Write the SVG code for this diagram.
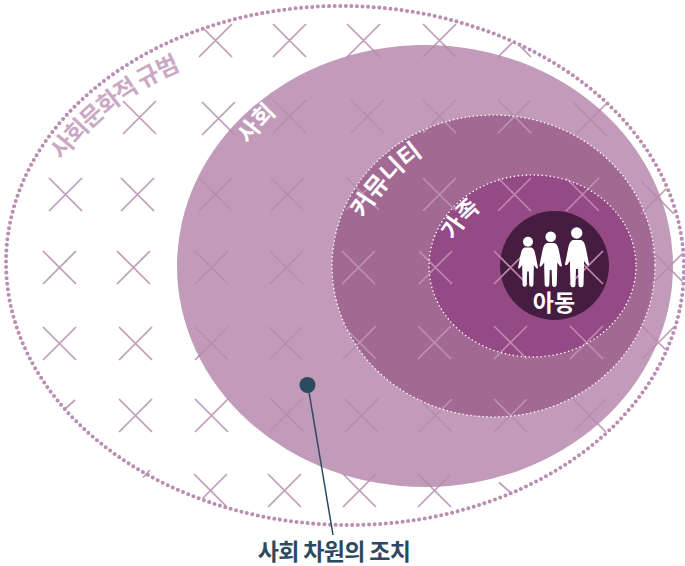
<svg xmlns="http://www.w3.org/2000/svg" xmlns:xlink="http://www.w3.org/1999/xlink" width="685" height="566" viewBox="0 0 685 566">
<style>
text{font-family:"Noto Sans CJK KR","Noto Sans",sans-serif;font-weight:700}
.w{fill:#fff}
.edge{fill:none;stroke:#fff;stroke-width:1.6;stroke-linecap:round;stroke-dasharray:0 4}
.x{fill:none;stroke-width:1.7}
</style>
<defs>
<path id="marks" d="M199 24l33 33m-33 0l33-33M273 24l33 33m-33 0l33-33M347 24l33 33m-33 0l33-33M423 24l33 33m-33 0l33-33M498 24l33 33m-33 0l33-33
M123 101l33 33m-33 0l33-33M202 102l33 33m-33 0l33-33M273 100l33 33m-33 0l33-33M351 100l33 33m-33 0l33-33M423 100l33 33m-33 0l33-33M498 100l33 33m-33 0l33-33M574 103l33 33m-33 0l33-33
M49 178l33 33m-33 0l33-33M121 178l33 33m-33 0l33-33M199 178l33 33m-33 0l33-33M271 178l33 33m-33 0l33-33M346 177l33 33m-33 0l33-33M423 178l33 33m-33 0l33-33M498 178l33 33m-33 0l33-33M566 178l33 33m-33 0l33-33M641 181l33 33m-33 0l33-33
M43 251l33 33m-33 0l33-33M117 251l33 33m-33 0l33-33M195 251l33 33m-33 0l33-33M270 251l33 33m-33 0l33-33M342 251l33 33m-33 0l33-33M419 251l33 33m-33 0l33-33M494 251l33 33m-33 0l33-33M570 251l33 33m-33 0l33-33M652 251l33 33m-33 0l33-33
M43 327l33 33m-33 0l33-33M119 327l33 33m-33 0l33-33M195 327l33 33m-33 0l33-33M269 327l33 33m-33 0l33-33M343 326l33 33m-33 0l33-33M418 326l33 33m-33 0l33-33M494 326l33 33m-33 0l33-33M570 326l33 33m-33 0l33-33M642 326l33 33m-33 0l33-33
M119 399l33 33m-33 0l33-33M195 399l33 33m-33 0l33-33M270 398l33 33m-33 0l33-33M345 399l33 33m-33 0l33-33M419 399l33 33m-33 0l33-33M494 399l33 33m-33 0l33-33M573 399l33 33m-33 0l33-33
M194 474l33 33m-33 0l33-33M268 474l33 33m-33 0l33-33M343 474l33 33m-33 0l33-33M418 474l33 33m-33 0l33-33"/>
<clipPath id="cOuter"><ellipse cx="345" cy="265.5" rx="338" ry="258.5" transform="rotate(1.2 345 265.5)"/></clipPath>
<clipPath id="cSociety"><ellipse cx="425" cy="266" rx="248" ry="221"/></clipPath>
<clipPath id="cCommunity"><ellipse cx="493.5" cy="266" rx="161.5" ry="151"/></clipPath>
<clipPath id="cFamily"><ellipse cx="532.5" cy="266" rx="103.5" ry="91"/></clipPath>
<path id="body" d="M-4 0H4C7 1 8 4 9 9L12 24Q12 26 10 25L7 21V26L6.5 45Q6 48 3 47Q1.5 47 1.5 44L1 29H-1L-1.5 44Q-1.5 47-3 47Q-6 48-6.5 45L-7 26V21L-10 25Q-12 26-12 24L-9 9C-8 4-7 1-4 0Z"/>
<path id="arcNorm" d="M62 161Q112 96 186 68"/>
<path id="arcSoc" d="M249 145Q268 118 292 102"/>
<path id="arcCom" d="M364 219Q389 176 432 149"/>
<path id="arcFam" d="M454 241Q467 217 493 201"/>
</defs>
<rect width="685" height="566" fill="#fff"/>
<g id="norm">
<use xlink:href="#marks" href="#marks" class="x" stroke="#c09ab9" clip-path="url(#cOuter)"/>
<path d="M499 482.5L510 492M65 409L75 400M143 477.5L150 470" class="x" stroke="#c09ab9"/>
<ellipse cx="345" cy="265.5" rx="339" ry="259.5" transform="rotate(1.2 345 265.5)" fill="none" stroke="#b98eb2" stroke-width="4" stroke-linecap="round" stroke-dasharray="0 5.6"/>
<text font-size="24" fill="#cba9c5" letter-spacing="-1.2"><textPath xlink:href="#arcNorm" href="#arcNorm">사회문화적 규범</textPath></text>
</g>
<g id="society">
<ellipse cx="425" cy="266" rx="248" ry="221" fill="#c19bb9"/>
<use xlink:href="#marks" href="#marks" class="x" stroke="#b68dab" clip-path="url(#cSociety)"/>
<text font-size="23" class="w"><textPath xlink:href="#arcSoc" href="#arcSoc">사회</textPath></text>
</g>
<g id="community">
<ellipse cx="493.5" cy="266" rx="161.5" ry="151" fill="#a26993"/>
<use xlink:href="#marks" href="#marks" class="x" stroke="#bd91b2" clip-path="url(#cCommunity)"/>
<ellipse cx="493.5" cy="266" rx="161.5" ry="151" class="edge"/>
<text font-size="24" class="w"><textPath xlink:href="#arcCom" href="#arcCom">커뮤니티</textPath></text>
</g>
<g id="family">
<ellipse cx="532.5" cy="266" rx="103.5" ry="91" fill="#944a84"/>
<circle cx="554.5" cy="265.5" r="54.5" fill="#451d40"/>
<use xlink:href="#marks" href="#marks" class="x" stroke="#bf86ae" clip-path="url(#cFamily)"/>
<ellipse cx="532.5" cy="266" rx="103.5" ry="91" class="edge"/>
<text font-size="23" class="w"><textPath xlink:href="#arcFam" href="#arcFam">가족</textPath></text>
</g>
<g id="child" class="w">
<circle cx="528" cy="241.7" r="5"/><circle cx="550.7" cy="236.7" r="5.3"/><circle cx="576.7" cy="233" r="5.7"/>
<use xlink:href="#body" href="#body" transform="translate(528 247.5) scale(.83)"/>
<use xlink:href="#body" href="#body" transform="translate(550.7 243) scale(.93)"/>
<use xlink:href="#body" href="#body" transform="translate(577 240)"/>
<text x="554" y="311" font-size="23" text-anchor="middle">아동</text>
</g>
<g id="connectors">
<path d="M309 392L333 535" fill="none" stroke="#2b4a60" stroke-width="1.5"/>
</g>
<g id="measure">
<circle cx="307.5" cy="385" r="8" fill="#2b4a60"/>
<text x="334" y="560" font-size="23" text-anchor="middle" fill="#2b4a60" letter-spacing="-.7">사회 차원의 조치</text>
</g>
</svg>
